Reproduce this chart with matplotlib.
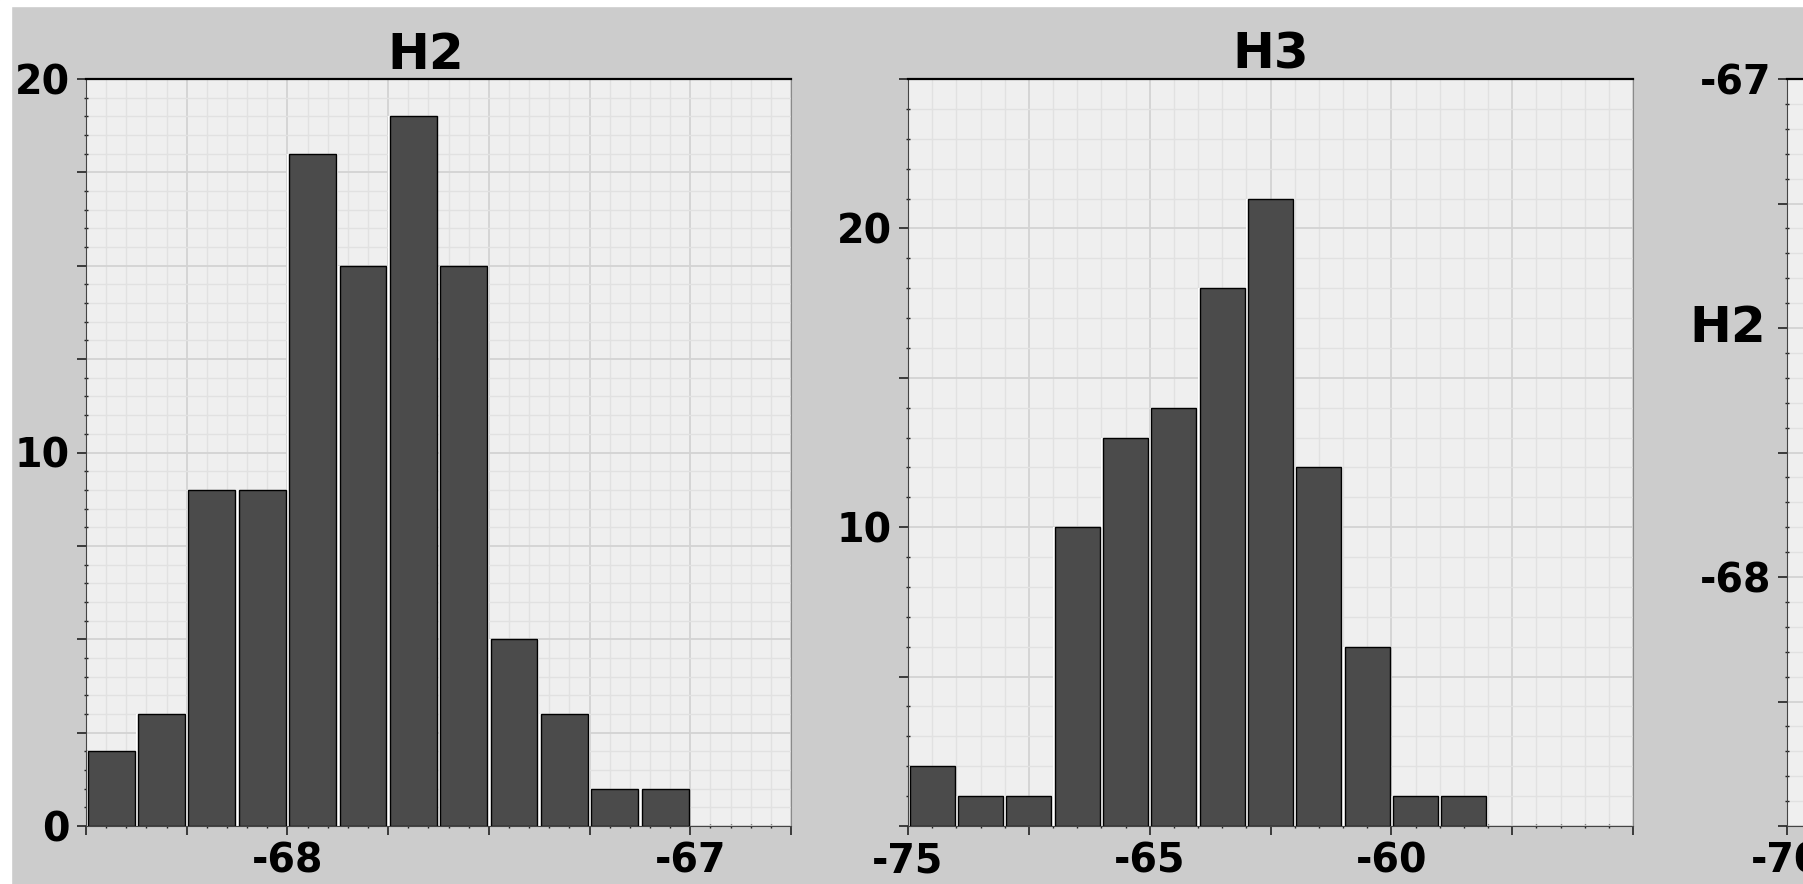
import matplotlib
matplotlib.use('Agg')
import matplotlib.pyplot as plt
from matplotlib.ticker import MultipleLocator, FixedLocator, FixedFormatter
from matplotlib.patches import Rectangle

# histogram data
h2_left = -68.5
h2_width = 0.125
h2_counts = [2, 3, 9, 9, 18, 15, 19, 15, 5, 3, 1, 1]

h3_left = -70
h3_width = 1.0
h3_counts = [2, 1, 1, 10, 13, 14, 18, 21, 12, 6, 1, 1]

# tick labels as they appear
h2_xticks = [-68.5, -68.25, -68.0, -67.75, -67.5, -67.25, -67.0, -66.75]
h2_xlabels = ['', '', '-68', '', '', '', '-67', '']
h2_yticks = [0, 2.5, 5, 7.5, 10, 12.5, 15, 17.5, 20]
h2_ylabels = ['0', '', '', '', '10', '', '', '', '20']

h3_xticks = [-70, -67.5, -65, -62.5, -60, -57.5, -55]
h3_xlabels = ['-75', '', '-65', '', '-60', '', '']
h3_yticks = [0, 5, 10, 15, 20, 25]
h3_ylabels = ['', '', '10', '', '20', '']

p3_yticks = [-68.5, -68.25, -68.0, -67.75, -67.5, -67.25, -67.0]
p3_ylabels = ['', '', '-68', '', '', '', '-67']
p3_xticks = [-70]
p3_xlabels = ['-70']

plt.rcParams['font.family'] = 'DejaVu Sans'
plt.rcParams['font.weight'] = 'bold'
TICK_FS = 28.5
TITLE_FS = 36

FACE = '#efefef'
BAR = '#4b4b4b'


def style_axes(ax, xticks, xlabels, xminor, yticks, ylabels, yminor):
    ax.set_facecolor(FACE)
    ax.set_axisbelow(True)
    ax.xaxis.set_major_locator(FixedLocator(xticks))
    ax.xaxis.set_major_formatter(FixedFormatter(xlabels))
    ax.yaxis.set_major_locator(FixedLocator(yticks))
    ax.yaxis.set_major_formatter(FixedFormatter(ylabels))
    ax.xaxis.set_minor_locator(MultipleLocator(xminor))
    ax.yaxis.set_minor_locator(MultipleLocator(yminor))
    ax.grid(True, which='major', color='#d3d3d3', linewidth=1.3)
    ax.grid(True, which='minor', color='#e1e1e1', linewidth=1.0)
    ax.tick_params(which='major', length=6.5, width=1.2, color='#222222',
                   labelsize=TICK_FS, pad=5)
    ax.tick_params(which='minor', length=3, width=1.0, color='#222222',
                   direction='inout')
    for lab in ax.get_xticklabels() + ax.get_yticklabels():
        lab.set_fontweight('bold')
    ax.spines['top'].set_color('black')
    ax.spines['top'].set_linewidth(1.6)
    ax.spines['left'].set_color('#444444')
    ax.spines['bottom'].set_color('#444444')
    ax.spines['right'].set_color('#8a8a8a')


def draw_hist(ax, left, width, counts):
    lefts = [left + i * width for i in range(len(counts))]
    gap = width * 0.035
    ax.bar(lefts, counts, width=width, align='edge', color='white',
           edgecolor='none', zorder=2)
    ax.bar([l + gap for l in lefts], counts, width=width - 2 * gap,
           align='edge', color=BAR, edgecolor='black', linewidth=1.0, zorder=3)


W, H = 1803, 884
fig = plt.figure(figsize=(W / 100, H / 100), dpi=100)
fig.patch.set_facecolor('#cccccc')

bottom = (H - 826) / H
height = (826 - 79) / H

ax1 = fig.add_axes([86 / W, bottom, (791 - 86) / W, height])
draw_hist(ax1, h2_left, h2_width, h2_counts)
ax1.set_xlim(-68.5, -66.75)
ax1.set_ylim(0, 20)
style_axes(ax1, h2_xticks, h2_xlabels, 0.05, h2_yticks, h2_ylabels, 0.5)
ax1.set_title('H2', fontsize=TITLE_FS, fontweight='bold', pad=3, x=0.482)

ax2 = fig.add_axes([908 / W, bottom, (1633 - 908) / W, height])
draw_hist(ax2, h3_left, h3_width, h3_counts)
ax2.set_xlim(-70, -55)
ax2.set_ylim(0, 25)
style_axes(ax2, h3_xticks, h3_xlabels, 0.5, h3_yticks, h3_ylabels, 1)
ax2.set_title('H3', fontsize=TITLE_FS, fontweight='bold', pad=3)

# third panel, mostly cut off by the right edge
ax3 = fig.add_axes([1787 / W, bottom, (1633 - 908) / W, height])
ax3.set_xlim(-70, -55)
ax3.set_ylim(-68.5, -67)
style_axes(ax3, p3_xticks, p3_xlabels, 0.5, p3_yticks, p3_ylabels, 0.05)
ax3.set_ylabel('H2', rotation=0, fontsize=TITLE_FS, fontweight='bold',
               ha='right', va='center')
ax3.yaxis.set_label_coords(-21 / 725, 2 / 3)

# white margins of the screenshot
fig.patches.append(Rectangle((0, 0), 11 / W, 1, transform=fig.transFigure,
                             color='white', zorder=10))
fig.patches.append(Rectangle((0, 1 - 6 / H), 1, 6 / H, transform=fig.transFigure,
                             color='white', zorder=10))

fig.savefig('out.png', dpi=100, facecolor=fig.get_facecolor())
